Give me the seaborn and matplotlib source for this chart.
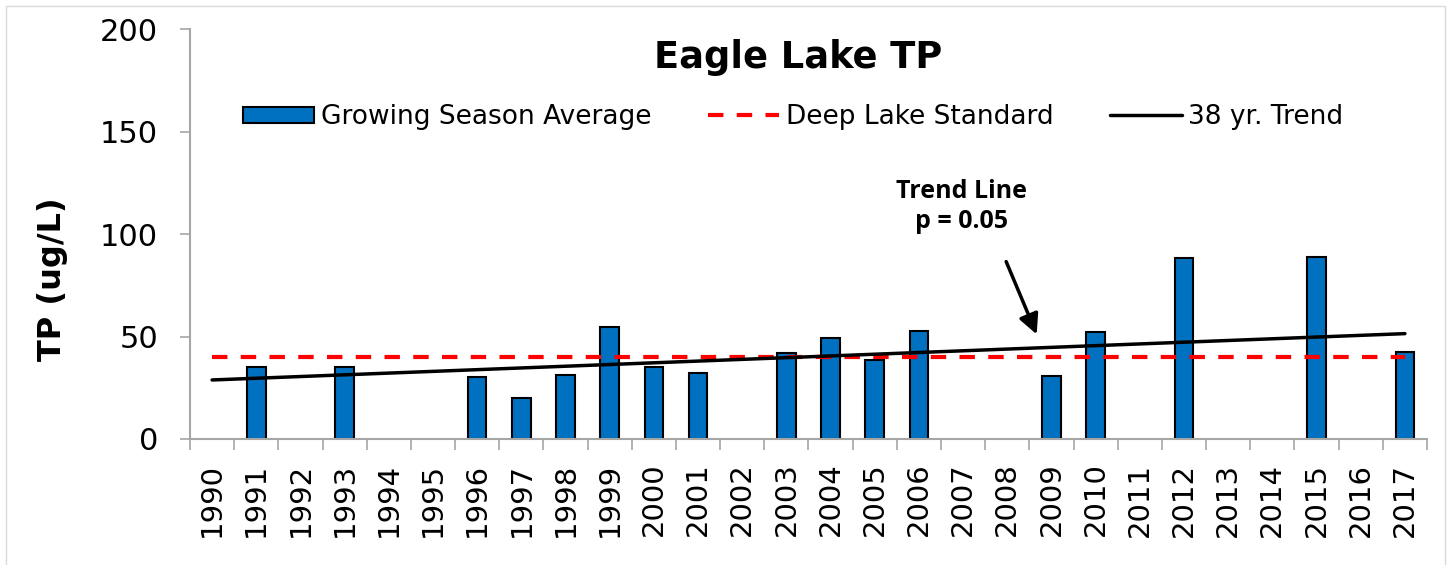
import numpy as np
import pandas as pd
import matplotlib
matplotlib.use('Agg')
import matplotlib.pyplot as plt
import seaborn as sns
from matplotlib.patches import Rectangle, Patch
from matplotlib.lines import Line2D

# data
years = [str(y) for y in range(1990, 2018)]
tp = [np.nan, 35.1, np.nan, 35.1, np.nan, np.nan, 30.2, 20.1, 31.2, 54.5,
      35.1, 32.2, np.nan, 41.8, 49.3, 38.4, 52.8, np.nan, np.nan, 30.9,
      52.0, np.nan, 88.1, np.nan, np.nan, 88.8, np.nan, 42.3]
standard = 40
trend_start = 28.8
trend_end = 51.4
legend_labels = ['Growing Season Average', 'Deep Lake Standard', '38 yr. Trend']

df = pd.DataFrame({'year': years, 'tp': tp})

sns.set_style('white')
plt.rcParams['font.family'] = ['DejaVu Sans']
plt.rcParams['text.color'] = 'black'
plt.rcParams['axes.labelcolor'] = 'black'

fig = plt.figure(figsize=(14.52, 5.65), dpi=100)
ax = fig.add_axes([190 / 1452, 1 - 439 / 565, 1237 / 1452, 410 / 565])

sns.barplot(data=df, x='year', y='tp', order=years, color='#0070C0',
            edgecolor='black', linewidth=1.5, width=0.42, saturation=1, ax=ax)

# deep lake standard and trend line
ax.plot([0, len(years) - 1], [standard, standard], color='red', lw=3, dashes=(3.7, 3.2))
ax.plot([0, len(years) - 1], [trend_start, trend_end], color='black', lw=2.5)

ax.set_xlim(-0.5, len(years) - 0.5)
ax.set_ylim(0, 200)
ax.set_yticks([0, 50, 100, 150, 200])
ax.set_xticks(np.arange(-0.5, len(years), 1), minor=True)
ax.set_xticklabels(years, rotation=90)
ax.tick_params(axis='x', which='major', length=0, pad=17, labelsize=21, labelcolor='black')
ax.tick_params(axis='x', which='minor', length=8, width=1.2, color='#a6a6a6', bottom=True)
ax.tick_params(axis='y', length=7, width=1.2, color='#a6a6a6', pad=16, labelsize=22,
               labelcolor='black', left=True)
for s in ['top', 'right']:
    ax.spines[s].set_visible(False)
for s in ['left', 'bottom']:
    ax.spines[s].set_color('#a6a6a6')
    ax.spines[s].set_linewidth(1.5)

ax.set_xlabel('')
ax.set_ylabel('TP (ug/L)', fontsize=23, fontweight='bold')
ax.yaxis.set_label_coords(-0.099, 0.39)

fig.text(798 / 1452, 1 - 57 / 565, 'Eagle Lake TP', fontsize=26.5, fontweight='bold',
         ha='center', va='center')

handles = [Patch(facecolor='#0070C0', edgecolor='black', lw=1.5),
           Line2D([], [], color='red', lw=3, dashes=(3.7, 3.2)),
           Line2D([], [], color='black', lw=2.5)]
fig.legend(handles, legend_labels, loc='center left', bbox_to_anchor=(243 / 1452, 1 - 117 / 565),
           ncol=3, frameon=False, fontsize=19, handlelength=2.7, handleheight=0.55,
           handletextpad=0.25, columnspacing=2.15, borderpad=0, borderaxespad=0)

# annotation for the trend
ax.text(16.97, 113.4, 'Trend Line\np = 0.05', fontsize=18, fontweight='bold',
        family=['Open Sans', 'DejaVu Sans'], ha='center', va='center', linespacing=1.3)
ax.annotate('', xy=(18.69, 49.8), xytext=(17.95, 87.8),
            arrowprops=dict(arrowstyle='-|>', lw=2.5, color='black', mutation_scale=30))

fig.add_artist(Rectangle((6 / 1452, -10 / 565), 1439 / 1452, 569 / 565, transform=fig.transFigure,
                         fill=False, edgecolor='#d9d9d9', lw=1))

fig.savefig('out.png', dpi=100)
